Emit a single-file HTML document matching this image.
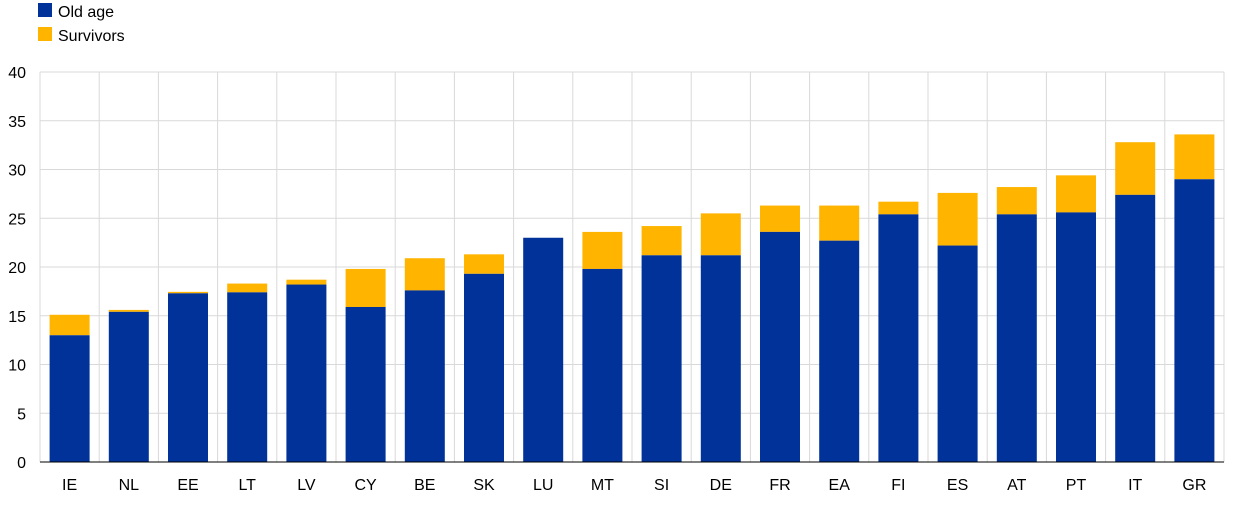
<!DOCTYPE html>
<html><head><meta charset="utf-8"><style>
body{margin:0;background:#fff;}
svg text{font-family:"Liberation Sans",Arial,sans-serif;font-size:16px;fill:#000;}
</style></head><body>
<svg width="1240" height="501" xmlns="http://www.w3.org/2000/svg">
<rect x="38" y="3" width="14" height="14" fill="#003299"/>
<text x="58" y="17">Old age</text>
<rect x="38" y="27" width="14" height="14" fill="#FFB400"/>
<text x="58" y="41">Survivors</text>
<g id="g"></g>
</svg>
<script>
const svg=document.querySelector('svg'),g=document.getElementById('g');
const NS='http://www.w3.org/2000/svg';
function el(t,a,txt){const e=document.createElementNS(NS,t);for(const k in a)e.setAttribute(k,a[k]);if(txt!==undefined)e.textContent=txt;g.appendChild(e);return e;}
const x0=40,x1=1224,y0=462,s=9.75;
const d=[["IE",13.0,15.1],["NL",15.4,15.6],["EE",17.3,17.45],["LT",17.4,18.3],["LV",18.2,18.7],["CY",15.9,19.8],["BE",17.6,20.9],["SK",19.3,21.3],["LU",23.0,23.0],["MT",19.8,23.6],["SI",21.2,24.2],["DE",21.2,25.5],["FR",23.6,26.3],["EA",22.7,26.3],["FI",25.4,26.7],["ES",22.2,27.6],["AT",25.4,28.2],["PT",25.6,29.4],["IT",27.4,32.8],["GR",29.0,33.6]];
const w=(x1-x0)/d.length;
for(let v=0;v<=40;v+=5){const y=y0-v*s;el('line',{x1:x0,x2:x1,y1:y,y2:y,stroke:'#d9d9d9','stroke-width':1});el('text',{x:26,y:y+6,'text-anchor':'end'},v);}
for(let i=0;i<=d.length;i++){const x=x0+i*w;el('line',{x1:x,x2:x,y1:y0-40*s,y2:y0,stroke:'#d9d9d9','stroke-width':1});}
d.forEach((r,i)=>{const cx=x0+(i+0.5)*w,bw=40;
el('rect',{x:cx-bw/2,y:y0-r[2]*s,width:bw,height:(r[2]-r[1])*s,fill:'#FFB400'});
el('rect',{x:cx-bw/2,y:y0-r[1]*s,width:bw,height:r[1]*s,fill:'#003299'});
el('text',{x:cx,y:490,'text-anchor':'middle'},r[0]);});
el('line',{x1:x0,x2:x1,y1:y0,y2:y0,stroke:'#000','stroke-width':1});
</script>
</body></html>
